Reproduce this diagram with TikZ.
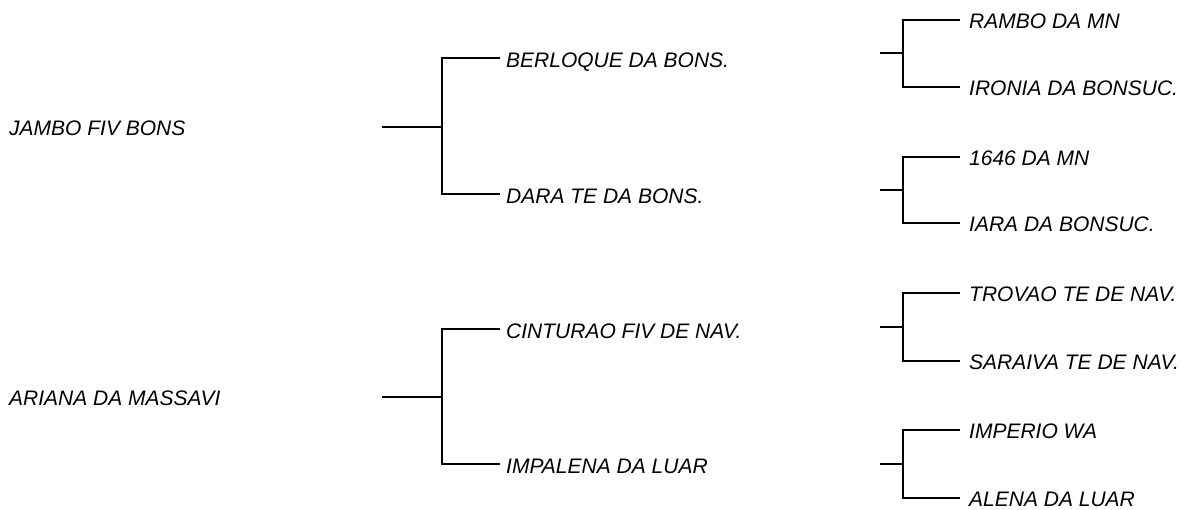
\documentclass[tikz,border=0pt]{standalone}
\usepackage{fontspec}
\setmainfont{Liberation Sans}
\begin{document}
\begin{tikzpicture}[x=1pt,y=-1pt,
  lbl/.style={anchor=base west,inner sep=0pt,font=\fontsize{21}{25}\selectfont\itshape},
  conn/.style={line width=1.6pt,line cap=butt,line join=miter}]
\useasboundingbox (0,0) rectangle (1187,510);
% ---- coordinates: stubs, junctions, branch ends
% generation 1 -> 2
\coordinate (sA) at (382,127); \coordinate (jA) at (442,127);
\coordinate (eA1) at (500,58);  \coordinate (eA2) at (500,194);
\coordinate (sB) at (382,397); \coordinate (jB) at (442,397);
\coordinate (eB1) at (500,329); \coordinate (eB2) at (500,464);
% generation 2 -> 3
\coordinate (s1) at (880,53);  \coordinate (j1) at (903,53);
\coordinate (e11) at (960,20);  \coordinate (e12) at (960,87);
\coordinate (s2) at (880,190); \coordinate (j2) at (903,190);
\coordinate (e21) at (960,157); \coordinate (e22) at (960,223);
\coordinate (s3) at (880,327); \coordinate (j3) at (903,327);
\coordinate (e31) at (960,293); \coordinate (e32) at (960,361);
\coordinate (s4) at (880,464); \coordinate (j4) at (903,464);
\coordinate (e41) at (960,430); \coordinate (e42) at (960,498);
% ---- labels
\node[lbl] (nA) at (9,136) {JAMBO FIV BONS};
\node[lbl] (nB) at (9,406) {ARIANA DA MASSAVI};
\node[lbl] (nA1) at ([xshift=6pt,yshift=-10pt]eA1) {BERLOQUE DA BONS.};
\node[lbl] (nA2) at ([xshift=6pt,yshift=-10pt]eA2) {DARA TE DA BONS.};
\node[lbl] (nB1) at ([xshift=6pt,yshift=-10pt]eB1) {CINTURAO FIV DE NAV.};
\node[lbl] (nB2) at ([xshift=6pt,yshift=-10pt]eB2) {IMPALENA DA LUAR};
\node[lbl] (n11) at ([xshift=9pt,yshift=-9pt]e11) {RAMBO DA MN};
\node[lbl] (n12) at ([xshift=9pt,yshift=-9pt]e12) {IRONIA DA BONSUC.};
\node[lbl] (n21) at ([xshift=9pt,yshift=-9pt]e21) {1646 DA MN};
\node[lbl] (n22) at ([xshift=9pt,yshift=-9pt]e22) {IARA DA BONSUC.};
\node[lbl] (n31) at ([xshift=9pt,yshift=-9pt]e31) {TROVAO TE DE NAV.};
\node[lbl] (n32) at ([xshift=9pt,yshift=-9pt]e32) {SARAIVA TE DE NAV.};
\node[lbl] (n41) at ([xshift=9pt,yshift=-9pt]e41) {IMPERIO WA};
\node[lbl] (n42) at ([xshift=9pt,yshift=-9pt]e42) {ALENA DA LUAR};
% ---- connectors
\foreach \g in {A,B}{
  \draw[conn] (s\g) -- (j\g);
  \draw[conn] (e\g1) -| (j\g) |- (e\g2);
}
\foreach \g in {1,2,3,4}{
  \draw[conn] (s\g) -- (j\g);
  \draw[conn] (e\g1) -| (j\g) |- (e\g2);
}
\end{tikzpicture}
\end{document}
